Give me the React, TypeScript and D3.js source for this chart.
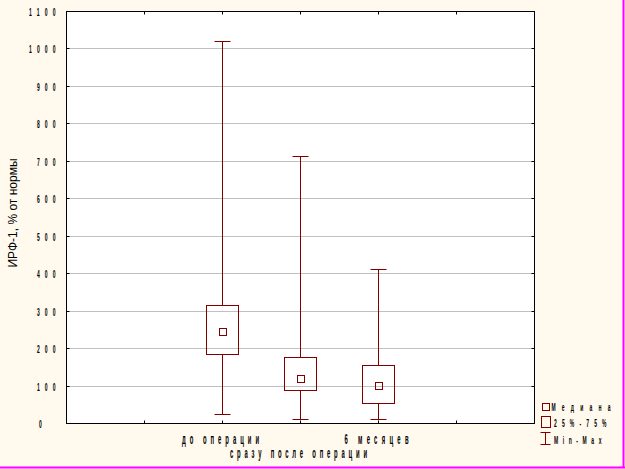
import React from "react";
import * as d3 from "d3";

const categories = ["до операции", "сразу после операции", "6 месяцев"];
const mins = [25, 11, 11];
const q1s = [185, 89, 54];
const medians = [245, 120, 101];
const q3s = [315, 177, 155];
const maxs = [1019, 713, 412];
const yTicks = [0, 100, 200, 300, 400, 500, 600, 700, 800, 900, 1000, 1100];
const legendLabels = ["Медиана", "25%-75%", "Min-Max"];

const W = 625, H = 469;
const L = 66.5, R = 534.5, T = 11.5, B = 423.5;
const RED = "#800000";
const FONT = "'Liberation Sans', Arial, sans-serif";

function CText(props: { x: number; y: number; width?: number; s: number; fs: number; text: string; anchor?: "start" | "middle" | "end" }) {
  const { x, y, width, s, fs, text, anchor = "start" } = props;
  let start = x;
  if (width !== undefined) {
    if (anchor === "middle") start = x - width / 2;
    if (anchor === "end") start = x - width;
  }
  return (
    <text
      transform={`translate(${start},${y}) scale(${s},1)`}
      fontFamily={FONT}
      fontSize={fs}
      fontWeight="bold"
      fill="#000"
      textAnchor={width === undefined ? anchor : "start"}
      {...(width !== undefined ? { textLength: width / s, lengthAdjust: "spacing" } : {})}
    >
      {text}
    </text>
  );
}

export default function App() {
  const y = d3.scaleLinear().domain([0, 1100]).range([B, T]);
  const x = d3.scalePoint<string>().domain(categories).range([L, R]).padding(2);
  const step = x.step();
  const xTickPos = d3.range(1, 6).map((i) => L + i * step);
  const boxW = 32, capW = 16, medW = 7;
  const px = (v: number) => Math.round(v - 0.5) + 0.5;
  const xLabelW = [77, 137, 64];
  const xLabelDx = [-2, -2, -2];
  const legendW = [59, 52.5, 47.5];

  return (
    <div style={{ position: "fixed", left: 0, top: 0, width: W, height: H }}>
      <svg width={W} height={H} style={{ display: "block" }}>
        <rect x={0} y={0} width={W} height={H} fill="#FFF9EE" />
        <line x1={623.5} y1={0} x2={623.5} y2={468} stroke="#FF00FF" strokeWidth={2} />
        <line x1={0} y1={467.5} x2={625} y2={467.5} stroke="#FF00FF" strokeWidth={2} />
        <rect x={L} y={T} width={R - L} height={B - T} fill="#FFFFFF" />
        {yTicks.slice(1, -1).map((t) => (
          <line key={"g" + t} x1={L} x2={R} y1={px(y(t))} y2={px(y(t))} stroke="#C0C0C0" strokeWidth={1} />
        ))}
        {yTicks.map((t) => {
          const s = String(t);
          const w = s.length === 1 ? undefined : s.length === 3 ? 18.5 : 26.5;
          return (
            <g key={"yt" + t}>
              <line x1={L} x2={L + 3} y1={px(y(t))} y2={px(y(t))} stroke="#000" />
              <line x1={R - 3} x2={R} y1={px(y(t))} y2={px(y(t))} stroke="#000" />
              {w === undefined ? (
                <CText x={39} y={px(y(t)) + 4} s={0.5} fs={10} text={s} />
              ) : (
                <CText x={55.5} y={px(y(t)) + 4} width={w} s={0.5} fs={10} text={s} anchor="end" />
              )}
            </g>
          );
        })}
        {xTickPos.map((p, i) => (
          <g key={"xt" + i}>
            <line x1={px(p)} x2={px(p)} y1={B} y2={B - 3} stroke="#000" />
            <line x1={px(p)} x2={px(p)} y1={T} y2={T + 3} stroke="#000" />
          </g>
        ))}
        <rect x={L} y={T} width={R - L} height={B - T} fill="none" stroke="#000" strokeWidth={1} />
        {categories.map((c, i) => {
          const cx = px(x(c) as number);
          return (
            <g key={"b" + i} stroke={RED} strokeWidth={1} fill="none">
              <line x1={cx} x2={cx} y1={px(y(maxs[i]))} y2={px(y(q3s[i]))} />
              <line x1={cx} x2={cx} y1={px(y(q1s[i]))} y2={px(y(mins[i]))} />
              <line x1={cx - capW / 2} x2={cx + capW / 2} y1={px(y(maxs[i]))} y2={px(y(maxs[i]))} />
              <line x1={cx - capW / 2} x2={cx + capW / 2} y1={px(y(mins[i]))} y2={px(y(mins[i]))} />
              <rect x={cx - boxW / 2} y={px(y(q3s[i]))} width={boxW} height={px(y(q1s[i])) - px(y(q3s[i]))} />
              <rect x={cx - medW / 2 + 0.5} y={px(y(medians[i])) - medW / 2 + 0.5} width={medW} height={medW} />
            </g>
          );
        })}
        {categories.map((c, i) => (
          <CText key={"xl" + i} x={(x(c) as number) + xLabelDx[i]} y={i === 1 ? 457.5 : 443.5} width={xLabelW[i]} s={0.42} fs={14} text={c} anchor="middle" />
        ))}
        <text transform={`translate(17,213) rotate(-90)`} textAnchor="middle" fontFamily={FONT} fontSize={12} fill="#000">
          ИРФ-1, % от нормы
        </text>
        <g stroke={RED} strokeWidth={1} fill="none">
          <rect x={542.5} y={403.5} width={7} height={7} />
          <rect x={541.5} y={416.5} width={9} height={11} />
          <line x1={545.5} x2={545.5} y1={432} y2={445} />
          <line x1={540.5} x2={550.5} y1={432.5} y2={432.5} />
          <line x1={540.5} x2={550.5} y1={444.5} y2={444.5} />
        </g>
        {legendLabels.map((l, i) => (
          <CText key={"lg" + i} x={i === 0 ? 551.5 : 554} y={410.5 + i * 16.5} width={legendW[i]} s={0.5} fs={10} text={l} />
        ))}
      </svg>
    </div>
  );
}
